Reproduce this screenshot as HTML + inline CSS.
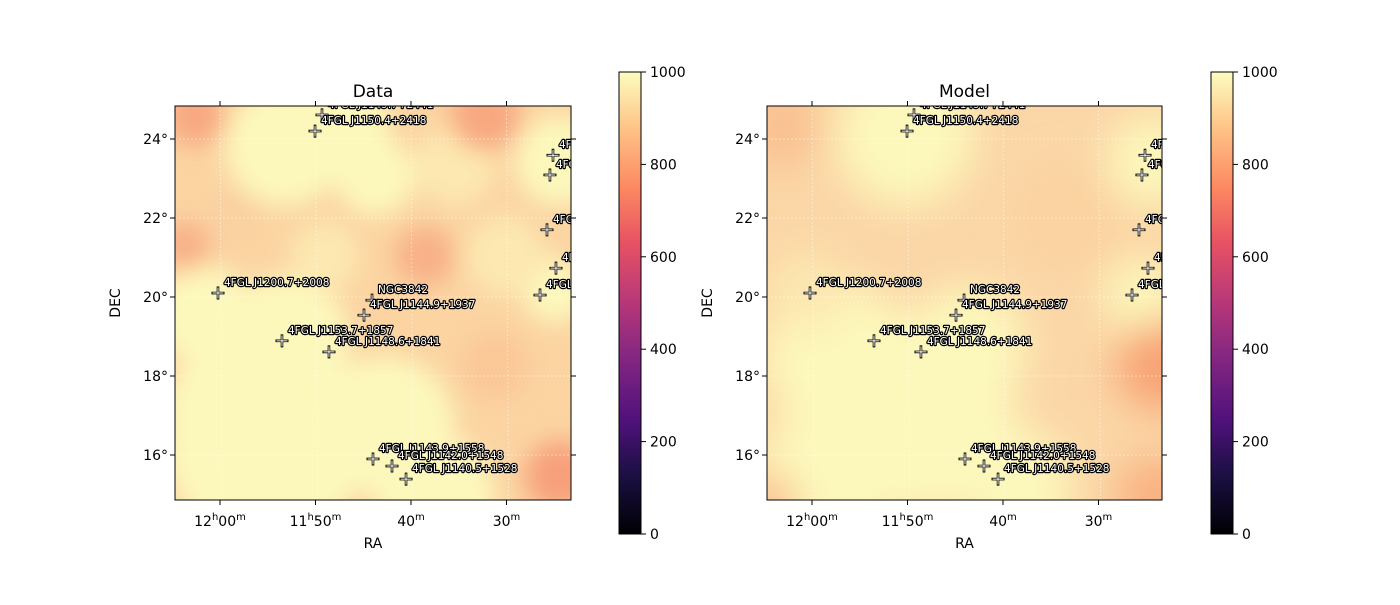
<!DOCTYPE html>
<html><head><meta charset="utf-8"><style>
body{margin:0;background:#fff;}
svg text{font-family:"DejaVu Sans","Liberation Sans",sans-serif;}
.lbl{font-size:10.5px;fill:#fff;stroke:#000;stroke-width:2.4px;paint-order:stroke;stroke-linejoin:round;}
.tk{font-size:14px;fill:#000;}
</style></head><body>
<svg id="fig" width="1400" height="600" viewBox="0 0 1400 600" xmlns="http://www.w3.org/2000/svg">
<defs>
<filter id="blur1" x="-50%" y="-50%" width="200%" height="200%"><feGaussianBlur stdDeviation="12"/></filter>
<filter id="blur2" x="-50%" y="-50%" width="200%" height="200%"><feGaussianBlur stdDeviation="20"/></filter>
<linearGradient id="magma" x1="0" y1="1" x2="0" y2="0">
<stop offset="0" stop-color="#000004"/><stop offset="0.13" stop-color="#1c1044"/><stop offset="0.25" stop-color="#51127c"/><stop offset="0.38" stop-color="#832681"/><stop offset="0.5" stop-color="#b73779"/><stop offset="0.63" stop-color="#e75263"/><stop offset="0.75" stop-color="#fc8961"/><stop offset="0.88" stop-color="#fec488"/><stop offset="1" stop-color="#fcfdbf"/>
</linearGradient>
<clipPath id="clipL"><rect x="175" y="106" width="396" height="394"/></clipPath>
<clipPath id="clipR"><rect x="767" y="106" width="395" height="394"/></clipPath>
</defs>
</svg>
<script>
// Source catalogue (RA minutes past 11h, DEC degrees)
const srcNames=["4FGL J1149.7+2441","4FGL J1150.4+2418","4FGL J1125.0+2335","4FGL J1125.6+2305","4FGL J1125.9+2142","4FGL J1124.9+2044","4FGL J1126.5+2002","4FGL J1200.7+2008","NGC3842","4FGL J1144.9+1937","4FGL J1153.7+1857","4FGL J1148.6+1841","4FGL J1143.9+1558","4FGL J1142.0+1548","4FGL J1140.5+1528"];
const srcRA=[49.32,50.05,25.13,25.45,25.76,24.82,26.49,60.21,44.08,44.92,53.51,48.59,43.98,41.99,40.52];
const srcDEC=[24.61,24.2,23.59,23.09,21.70,20.73,20.05,20.10,19.92,19.54,18.89,18.61,15.90,15.72,15.39];
const raTicks=[60,50,40,30];
const raTickLabels=["12h00m","11h50m","40m","30m"];
const decTicks=[24,22,20,18,16];
const cbTicks=[0,200,400,600,800,1000];

const NS="http://www.w3.org/2000/svg";
const svg=document.getElementById('fig');
function mk(tag,attrs,parent){const e=document.createElementNS(NS,tag);for(const k in attrs)e.setAttribute(k,attrs[k]);(parent||svg).appendChild(e);return e;}
const panels=[{x0:175,w:396,title:"Data",clip:"clipL",cb:619},{x0:767,w:395,title:"Model",clip:"clipR",cb:1211}];
const Y0=106,H=394;
const Y='#fcf8bb';
const dataBlobs=[[110,40,60,Y],[170,20,45,Y],[200,70,40,Y],[385,55,45,Y],[30,210,50,Y],[110,235,65,Y],[380,185,32,Y],[90,340,100,Y],[210,320,70,Y],[260,390,60,Y],[40,300,50,Y],[150,150,35,'#fce8b0'],[330,150,40,'#fce8b0'],[280,60,40,'#fce8b0'],
[20,10,30,'#f8a880'],[310,10,35,'#f8a880'],[250,150,30,'#f8b088'],[10,140,25,'#f8b088'],[385,370,35,'#f7a07a'],[320,260,35,'#fbc898'],[60,110,25,'#fad0a0']];
const modelBlobs=[[138,30,70,Y],[385,55,45,Y],[375,190,38,Y],[70,250,75,Y],[150,310,100,Y],[60,370,70,Y],[250,380,55,Y],[200,240,60,Y],[40,185,40,'#fce8b0'],
[395,260,45,'#f8a273'],[390,390,40,'#f9b080'],[5,395,25,'#f9b888'],[15,20,40,'#f9c090'],[300,110,50,'#fbd2a0']];

panels.forEach((p,pi)=>{
  const xs=ra=>p.x0+45+(60-ra)*9.55;
  const ys=dec=>139+(24-dec)*39.5;
  const g=mk('g',{'clip-path':`url(#${p.clip})`});
  
  
  mk('rect',{x:p.x0,y:Y0,width:p.w,height:H,fill:pi?'#fbd6a6':'#fbd4a2'},g);
  const bg=mk('g',{filter:pi?'url(#blur2)':'url(#blur1)'},g);
  (pi?modelBlobs:dataBlobs).forEach(b=>mk('circle',{cx:p.x0+b[0],cy:Y0+b[1],r:b[2],fill:b[3]},bg));
  raTicks.forEach(r=>mk('line',{x1:xs(r),y1:Y0,x2:xs(r)+2,y2:Y0+H,stroke:'#fff','stroke-opacity':0.6,'stroke-width':0.7,'stroke-dasharray':'2,2'},g));
  decTicks.forEach(d=>mk('line',{x1:p.x0,y1:ys(d),x2:p.x0+p.w,y2:ys(d),stroke:'#fff','stroke-opacity':0.6,'stroke-width':0.7,'stroke-dasharray':'2,2'},g));
  srcNames.forEach((n,i)=>{
    const cx=xs(srcRA[i]),cy=ys(srcDEC[i]);
    const s=mk('g',{},g);
    
    
    mk('path',{d:`M${cx-6.5} ${cy}H${cx+6.5}M${cx} ${cy-6.5}V${cy+6.5}`,stroke:'#000','stroke-width':2.6},s);
    mk('path',{d:`M${cx-5.5} ${cy}H${cx+5.5}M${cx} ${cy-5.5}V${cy+5.5}`,stroke:'#fff','stroke-width':1},s);
    const t=mk('text',{x:cx+6,y:cy-7,class:'lbl'},s);t.textContent=n;
    
    
  });
  const fr=mk('rect',{x:p.x0,y:Y0,width:p.w,height:H,fill:'none',stroke:'#000','stroke-width':1});
  
  
  raTicks.forEach((r,i)=>{
    const x=xs(r);
    mk('line',{x1:x,y1:Y0+H,x2:x,y2:Y0+H+5,stroke:'#000'});
    mk('line',{x1:x,y1:Y0,x2:x,y2:Y0-5,stroke:'#000'});
    const t=mk('text',{x:x,y:526,class:'tk','text-anchor':'middle'});
    const lab=raTickLabels[i];
    const m=lab.match(/^(\d+)h(\d+)m$/);
    if(m){t.innerHTML=`${m[1]}<tspan dy="-6" font-size="10">h</tspan><tspan dy="6">${m[2]}</tspan><tspan dy="-6" font-size="10">m</tspan>`;}
    else{const mm=lab.match(/^(\d+)m$/);t.innerHTML=`${mm[1]}<tspan dy="-6" font-size="10">m</tspan>`;}
    
    
  });
  decTicks.forEach(d=>{
    const y=ys(d);
    mk('line',{x1:p.x0,y1:y,x2:p.x0-5,y2:y,stroke:'#000'});
    mk('line',{x1:p.x0+p.w,y1:y,x2:p.x0+p.w+5,y2:y,stroke:'#000'});
    const t=mk('text',{x:p.x0-7,y:y+5,class:'tk','text-anchor':'end'});t.textContent=d+'°';
    
    
  });
  let t=mk('text',{x:p.x0+p.w/2,y:97,'font-size':17,'text-anchor':'middle'});t.textContent=p.title;
  
  
  t=mk('text',{x:p.x0+p.w/2,y:548,'font-size':14,'text-anchor':'middle'});t.textContent='RA';
  
  
  t=mk('text',{x:0,y:0,'font-size':14,'text-anchor':'middle',transform:`translate(${p.x0-55},${Y0+H/2}) rotate(-90)`});t.textContent='DEC';
  
  
  const cbY=72,cbH=462,cbW=22;
  const cb=mk('rect',{x:p.cb,y:cbY,width:cbW,height:cbH,fill:'url(#magma)',stroke:'#000','stroke-width':1});
  
  
  cbTicks.forEach(v=>{
    const y=cbY+cbH-(v/1000)*cbH;
    mk('line',{x1:p.cb+cbW,y1:y,x2:p.cb+cbW+5,y2:y,stroke:'#000'});
    const tt=mk('text',{x:p.cb+cbW+9,y:y+5,class:'tk'});tt.textContent=v;
    
    
  });
});
</script>
</body></html>
